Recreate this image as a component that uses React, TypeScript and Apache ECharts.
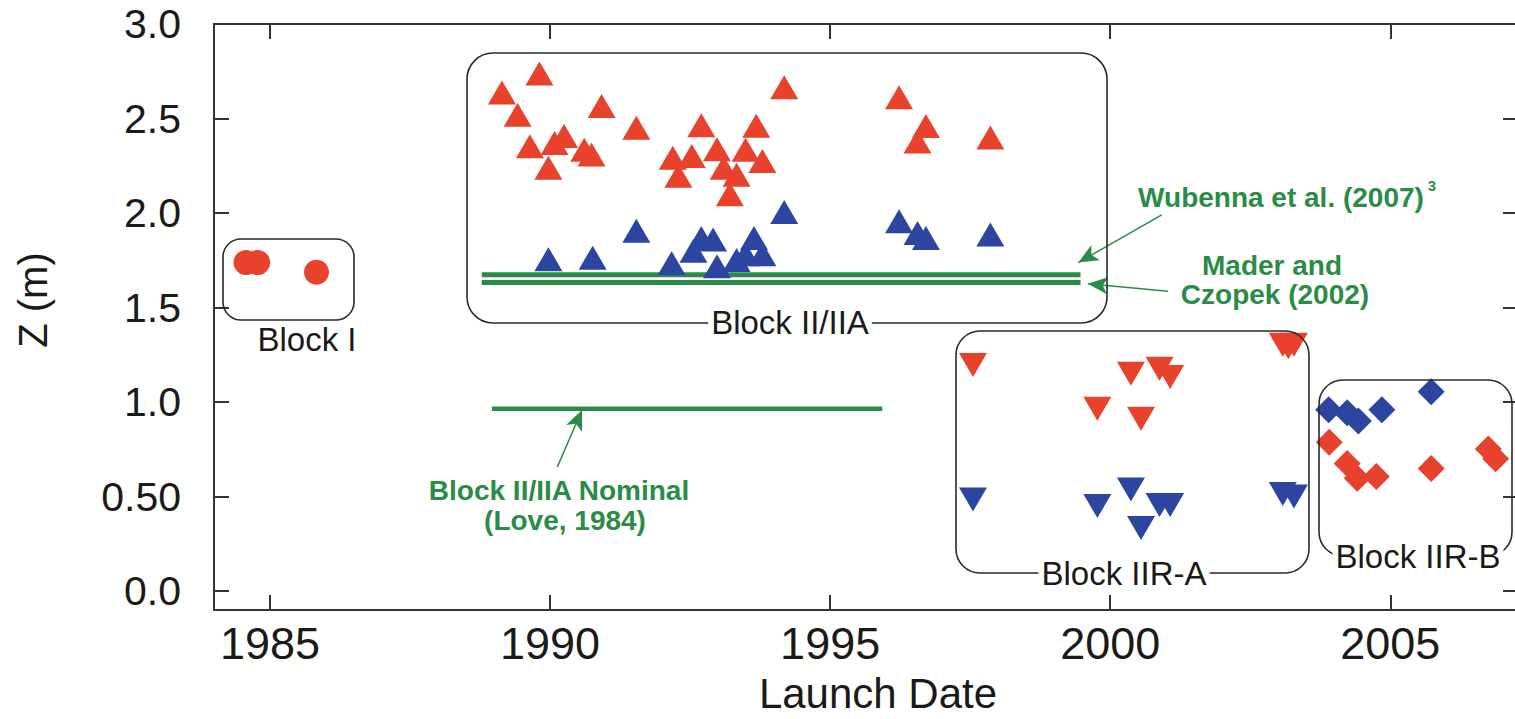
import React, { useEffect, useRef } from "react";
import * as echarts from "echarts";

// ---- data (launch year, Z in metres) ----
const blockI: number[][] = [[1984.57, 1.738], [1984.78, 1.738], [1985.83, 1.687]];
const blockIIARed: number[][] = [
  [1989.81, 2.738], [1989.14, 2.638], [1989.42, 2.52], [1990.92, 2.566], [1991.54, 2.451],
  [1994.18, 2.666], [1996.23, 2.612], [1996.71, 2.46], [1996.56, 2.379], [1997.86, 2.4],
  [1989.64, 2.353], [1990.08, 2.37], [1990.25, 2.408], [1989.97, 2.24], [1990.61, 2.335],
  [1990.74, 2.309], [1992.7, 2.465], [1993.68, 2.462], [1992.19, 2.292], [1992.53, 2.302],
  [1992.98, 2.337], [1993.49, 2.335], [1993.79, 2.275], [1992.29, 2.197], [1993.1, 2.24],
  [1993.33, 2.202], [1993.21, 2.099],
];
const blockIIABlue: number[][] = [
  [1989.97, 1.756], [1990.76, 1.764], [1991.54, 1.906], [1994.18, 2.005], [1996.23, 1.957],
  [1996.56, 1.894], [1996.71, 1.868], [1997.86, 1.887], [1992.17, 1.735], [1992.7, 1.868],
  [1992.91, 1.86], [1992.56, 1.8], [1992.98, 1.718], [1993.64, 1.868], [1993.79, 1.782],
  [1993.49, 1.782], [1993.33, 1.752],
];
const blockIIRARed: number[][] = [
  [1997.55, 1.196], [2000.37, 1.15], [2000.88, 1.176], [2001.07, 1.133], [1999.77, 0.964],
  [2000.55, 0.912], [2003.08, 1.303], [2003.18, 1.29], [2003.28, 1.303],
];
const blockIIRABlue: number[][] = [
  [1997.55, 0.485], [1999.77, 0.45], [2000.37, 0.537], [2000.55, 0.334], [2000.88, 0.455],
  [2001.07, 0.455], [2003.08, 0.514], [2003.28, 0.5],
];
const blockIIRBBlue: number[][] = [
  [2003.9, 0.96], [2004.23, 0.943], [2004.43, 0.9], [2004.85, 0.96], [2005.73, 1.055],
];
const blockIIRBRed: number[][] = [
  [2003.91, 0.787], [2004.23, 0.675], [2004.41, 0.597], [2004.75, 0.606], [2005.73, 0.649],
  [2006.75, 0.752], [2006.88, 0.7],
];
const wubbenaLine: number[][] = [[1988.78, 1.673], [1999.47, 1.673]];
const maderLine: number[][] = [[1988.78, 1.632], [1999.47, 1.632]];
const nominalLine: number[][] = [[1988.96, 0.964], [1995.93, 0.964]];
const arrows: number[][][] = [
  [[2000.92, 1.99], [1999.43, 1.738]],
  [[2001.03, 1.586], [1999.6, 1.626]],
  [[1990.13, 0.657], [1990.57, 0.958]],
];
const xTicks = [1985, 1990, 1995, 2000, 2005];
const yTicks = [0, 0.5, 1.0, 1.5, 2.0, 2.5, 3.0];

const RED = "#e8412c";
const BLUE = "#2c45a0";
const GREEN = "#2b8c48";
const AXIS = "#333";
const FONT = "'Liberation Sans', Arial, sans-serif";

export default function App() {
  const ref = useRef<HTMLDivElement>(null);
  useEffect(() => {
    if (!ref.current) return;
    const chart = echarts.init(ref.current, undefined, { renderer: "svg" });
    const axisLine = { show: true, onZero: false, lineStyle: { color: AXIS, width: 2 } };
    const scatter = (name: string, data: number[][], color: string, symbol: string, size: any, rotate = 0) => ({
      name, type: "scatter", data, symbol, symbolSize: size, symbolRotate: rotate,
      itemStyle: { color, opacity: 1 }, silent: true, z: 5,
    });
    const gline = (name: string, data: number[][], width: number, extra: any = {}) => ({
      name, type: "line", data, symbol: "none", silent: true, z: 4,
      lineStyle: { color: GREEN, width }, ...extra,
    });
    const blockLabel = (text: string, x: number, y: number, bg: boolean) => ({
      type: "text", x, y, z: 20,
      style: {
        text, font: `33px ${FONT}`, fill: "#1a1a1a", align: "center", verticalAlign: "middle",
        backgroundColor: bg ? "#fff" : undefined, padding: bg ? [0, 3] : 0,
      },
    });
    const box = (x: number, y: number, w: number, h: number, r: number) => ({
      type: "rect", z: 10, shape: { x, y, width: w, height: h, r },
      style: { fill: "none", stroke: "#2a2a2a", lineWidth: 1.6 },
    });
    const note = (text: string, x: number, y: number) => ({
      type: "text", x, y, z: 20,
      style: { text, font: `bold 28px ${FONT}`, fill: GREEN, align: "center", verticalAlign: "middle" },
    });
    chart.setOption({
      animation: false,
      backgroundColor: "#fff",
      grid: { left: 214, top: 24, width: 1304, height: 597, containLabel: false },
      xAxis: [
        {
          type: "value", min: 1984.0, max: 2007.28, position: "bottom",
          name: "Launch Date", nameLocation: "middle", nameGap: 62,
          nameTextStyle: { fontSize: 42, fontFamily: FONT, color: "#1a1a1a", padding: [0, 0, 0, 24] },
          axisLine, splitLine: { show: false },
          axisTick: { show: true, inside: true, length: 15, customValues: xTicks, lineStyle: { color: AXIS, width: 2 } },
          axisLabel: { customValues: xTicks, fontSize: 45, fontFamily: FONT, color: "#1a1a1a", margin: 11, formatter: (v: number) => String(v) },
        },
        {
          type: "value", min: 1984.0, max: 2007.28, position: "top",
          axisLine, splitLine: { show: false },
          axisTick: { show: true, inside: true, length: 15, customValues: xTicks, lineStyle: { color: AXIS, width: 2 } },
          axisLabel: { show: false },
        },
      ],
      yAxis: [
        {
          type: "value", min: -0.1, max: 3.0, position: "left",
          axisLine, splitLine: { show: false },
          axisTick: { show: true, inside: true, length: 15, customValues: yTicks, lineStyle: { color: AXIS, width: 2 } },
          axisLabel: {
            customValues: yTicks, fontSize: 41, fontFamily: FONT, color: "#1a1a1a", margin: 33,
            formatter: (v: number) => (Math.abs(v - 0.5) < 1e-9 ? "0.50" : v.toFixed(1)),
          },
        },
        {
          type: "value", min: -0.1, max: 3.0, position: "right",
          axisLine, splitLine: { show: false },
          axisTick: { show: true, inside: true, length: 15, customValues: yTicks, lineStyle: { color: AXIS, width: 2 } },
          axisLabel: { show: false },
        },
      ],
      series: [
        gline("Wubbena et al. (2007)", wubbenaLine, 5),
        gline("Mader and Czopek (2002)", maderLine, 5),
        gline("Block II/IIA Nominal (Love, 1984)", nominalLine, 4.5, {
          markLine: {
            silent: true, symbol: ["none", "arrow"], symbolSize: [13, 20],
            lineStyle: { color: GREEN, width: 1.5, type: "solid" }, label: { show: false },
            data: arrows.map((a) => [{ coord: a[0] }, { coord: a[1] }]),
          },
        }),
        scatter("Block I", blockI, RED, "circle", 25),
        scatter("Block II/IIA blue", blockIIABlue, BLUE, "triangle", [28, 24]),
        scatter("Block II/IIA red", blockIIARed, RED, "triangle", [28, 24]),
        scatter("Block IIR-A red", blockIIRARed, RED, "triangle", [28, 24], 180),
        scatter("Block IIR-A blue", blockIIRABlue, BLUE, "triangle", [28, 24], 180),
        scatter("Block IIR-B blue", blockIIRBBlue, BLUE, "diamond", [27, 27]),
        scatter("Block IIR-B red", blockIIRBRed, RED, "diamond", [27, 27]),
      ],
      graphic: [
        { type: "text", x: 33, y: 300, rotation: Math.PI / 2, z: 20,
          style: { text: "Z (m)", font: `40px ${FONT}`, fill: "#1a1a1a", align: "center", verticalAlign: "middle" } },
        box(223, 239, 131, 81, 18),
        box(467, 53, 640, 270, 26),
        box(956, 331, 353, 242, 24),
        box(1319, 380, 193, 176, 24),
        blockLabel("Block I", 307, 339, false),
        blockLabel("Block II/IIA", 790, 322, true),
        blockLabel("Block IIR-A", 1124, 573, true),
        blockLabel("Block IIR-B", 1418, 556, true),
        note("Wubenna et al. (2007)", 1281, 197),
        { type: "text", x: 1432, y: 185, z: 20,
          style: { text: "3", font: `bold 15px ${FONT}`, fill: GREEN, align: "center", verticalAlign: "middle" } },
        note("Mader and", 1272, 265),
        note("Czopek (2002)", 1275, 294),
        note("Block II/IIA Nominal", 559, 490),
        note("(Love, 1984)", 565, 520),
      ],
    });
    return () => chart.dispose();
  }, []);
  return (
    <div style={{ position: "absolute", left: 0, top: 0, width: 1515, height: 719, overflow: "hidden", background: "#fff" }}>
      <div ref={ref} style={{ width: 1525, height: 719 }} />
    </div>
  );
}
